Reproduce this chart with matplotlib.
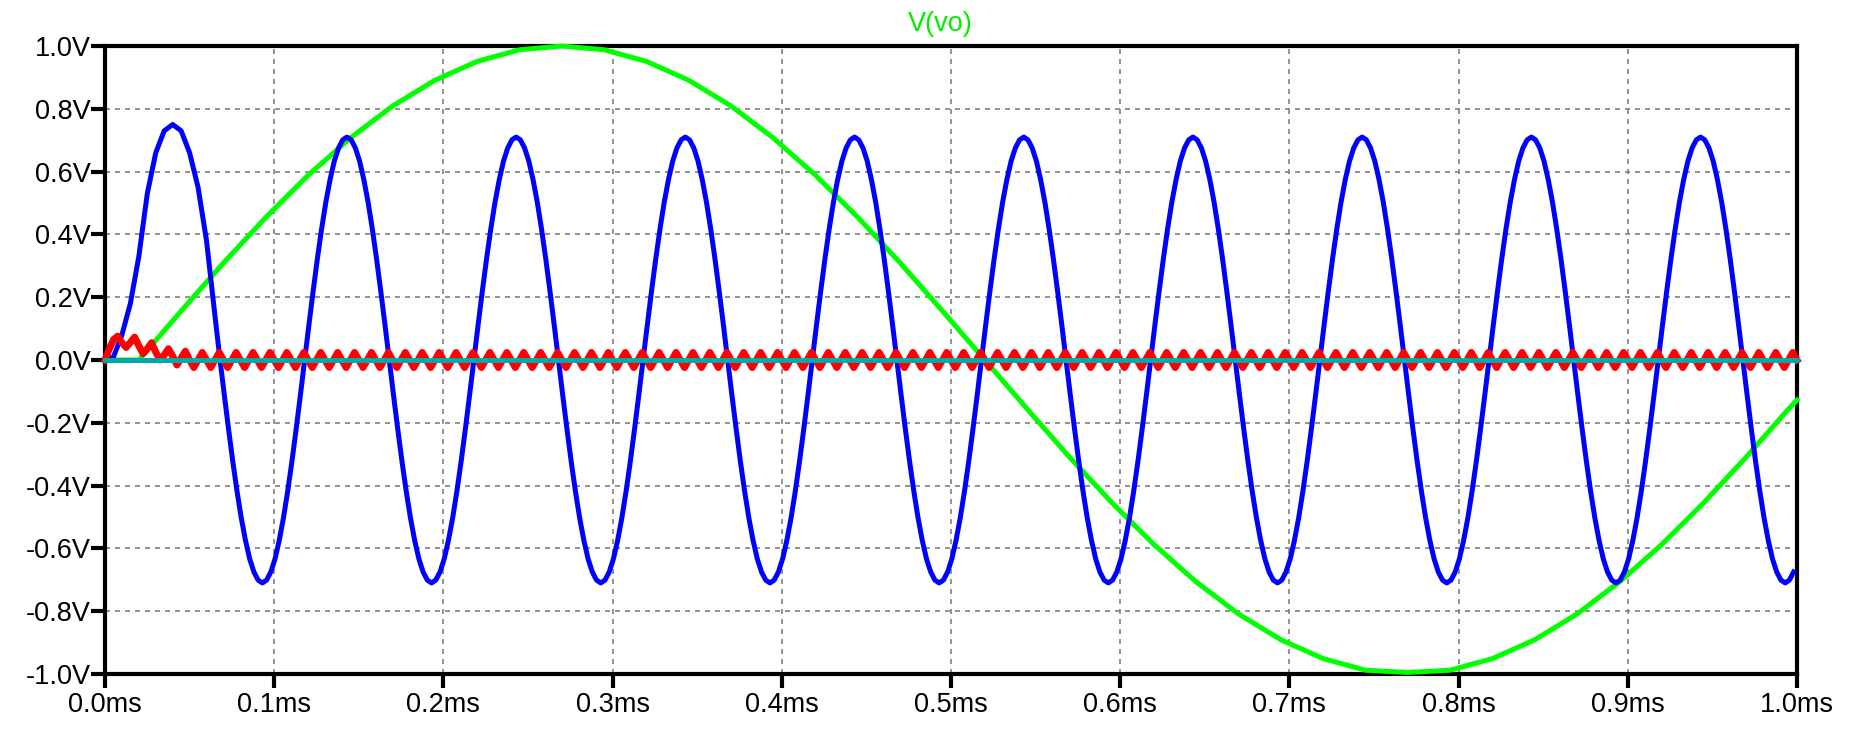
import numpy as np
import matplotlib.pyplot as plt

# LTspice-style transient plot, time in ms, voltages in V
x_ticks = [0.0, 0.1, 0.2, 0.3, 0.4, 0.5, 0.6, 0.7, 0.8, 0.9, 1.0]
x_labels = ["0.0ms", "0.1ms", "0.2ms", "0.3ms", "0.4ms", "0.5ms",
            "0.6ms", "0.7ms", "0.8ms", "0.9ms", "1.0ms"]
y_ticks = [-1.0, -0.8, -0.6, -0.4, -0.2, 0.0, 0.2, 0.4, 0.6, 0.8, 1.0]
y_labels = ["-1.0V", "-0.8V", "-0.6V", "-0.4V", "-0.2V", "0.0V",
            "0.2V", "0.4V", "0.6V", "0.8V", "1.0V"]

# V(vo): slow wave, read every 0.025 ms after it leaves zero at 0.02 ms
vo_t = np.concatenate([[0.0], 0.02 + 0.025 * np.arange(40), [1.0]])
vo_v = [0.000,
        0.000, 0.156, 0.309, 0.454, 0.588, 0.707, 0.809, 0.891, 0.951, 0.988,
        1.000, 0.988, 0.951, 0.891, 0.809, 0.707, 0.588, 0.454, 0.309, 0.156,
        0.000, -0.156, -0.309, -0.454, -0.588, -0.707, -0.809, -0.891, -0.951, -0.988,
        -0.995, -0.988, -0.951, -0.891, -0.809, -0.707, -0.588, -0.454, -0.309, -0.156,
        -0.128]

# blue trace: first half cycle (every 0.005 ms), then one repeating
# 0.1 ms cycle read every 0.0025 ms
blue_first = [0.00, 0.01, 0.08, 0.18, 0.33, 0.53, 0.66, 0.73, 0.75,
              0.73, 0.66, 0.55, 0.38, 0.14]
blue_cycle = [0.000, -0.111, -0.219, -0.322, -0.417, -0.502, -0.574, -0.633,
              -0.675, -0.701, -0.710, -0.701, -0.675, -0.633, -0.574, -0.502,
              -0.417, -0.322, -0.219, -0.111,
              0.000, 0.111, 0.219, 0.322, 0.417, 0.502, 0.574, 0.633,
              0.675, 0.701, 0.710, 0.701, 0.675, 0.633, 0.574, 0.502,
              0.417, 0.322, 0.219, 0.111]

# red trace: start-up ripple then a small steady ripple (every 0.0025 ms)
red_first = [0.000, 0.035, 0.065, 0.076, 0.055, 0.040, 0.056, 0.073, 0.045, 0.020,
             0.036, 0.055, 0.025, 0.000, 0.016, 0.036, 0.012, -0.016, 0.006, 0.028]
red_cycle = [0.000, -0.024, 0.000, 0.024]

# teal trace sits on zero
teal_t = [0.0, 1.0]
teal_v = [0.0, 0.0]

blue_t = np.concatenate([0.005 * np.arange(len(blue_first)),
                         0.068 + 0.0025 * np.arange(373)])
blue_v = np.concatenate([blue_first, np.tile(blue_cycle, 10)[:373]])

red_t = 0.0025 * np.arange(401)
red_v = np.concatenate([red_first, np.tile(red_cycle, 100)[:401 - len(red_first)]])

plt.rcParams['font.family'] = ['Liberation Sans', 'DejaVu Sans']

fig = plt.figure(figsize=(18.58, 7.30), dpi=100)
ax = fig.add_axes([105 / 1858, 1 - 674 / 730, (1797 - 105) / 1858, (674 - 46) / 730])

lw = 3.6
ax.plot(vo_t, vo_v, color='#00ff00', lw=lw, zorder=3, clip_on=False)
ax.plot(blue_t, blue_v, color='#0000ff', lw=lw, zorder=4, clip_on=False)
ax.plot(red_t, red_v, color='#ff0000', lw=5.0, zorder=5, clip_on=False)
ax.plot(teal_t, teal_v, color='#00a8a8', lw=lw, zorder=6, clip_on=False)

ax.set_xlim(0, 1.0)
ax.set_ylim(-1.0, 1.0)
ax.set_xticks(x_ticks)
ax.set_xticklabels(x_labels)
ax.set_yticks(y_ticks)
ax.set_yticklabels(y_labels)
ax.tick_params(axis='both', direction='out', length=10, width=3,
               labelsize=19.5, color='black')
ax.tick_params(axis='x', pad=3)
ax.tick_params(axis='y', pad=0)

ax.grid(True, color='#808080', linestyle=(0, (3, 3)), linewidth=1.2)
ax.set_axisbelow(True)
for s in ax.spines.values():
    s.set_linewidth(3)
    s.set_color('black')
    s.set_zorder(2.5)

ax.text(0.4935, 1.015, "V(vo)", transform=ax.transAxes, color='#00ee00',
        fontsize=19.5, ha='center', va='bottom')

fig.savefig("out.png", dpi=100)
